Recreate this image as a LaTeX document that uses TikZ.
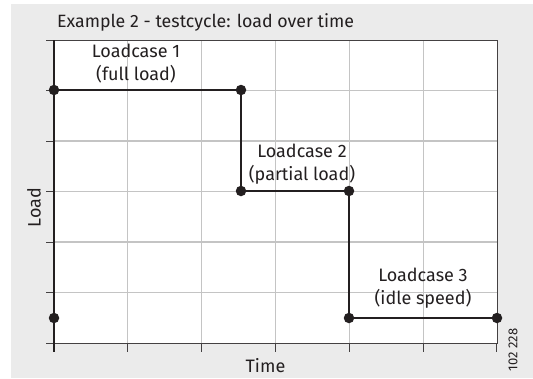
\documentclass[tikz,border=0pt]{standalone}
\usepackage{fontspec}
\setmainfont{Fira Sans}
\definecolor{bg}{HTML}{EBEBEB}
\definecolor{gridc}{HTML}{C4C4C4}
\definecolor{ink}{HTML}{231F20}
\begin{document}
\begin{tikzpicture}[x=1pt,y=-1pt,
  gridline/.style={gridc,line width=1.2pt},
  axisline/.style={ink!85,line width=1pt},
  dataline/.style={ink,line width=1.8pt},
  dot/.style={circle,fill=ink,inner sep=0pt,minimum size=10.5pt},
  lbl/.style={text=ink,font=\fontsize{18}{23}\selectfont,align=center,inner sep=0pt},
  ttl/.style={text=ink,font=\fontsize{17.8}{22}\selectfont,inner sep=0pt}]
\useasboundingbox (0,0) rectangle (533,378);
\fill[bg] (11,4) rectangle (533,378);
\fill[white] (54,40) rectangle (497,343);
% grid
\foreach \i in {1,...,5} {
  \draw[gridline] ({54+\i*73.83},40) -- ({54+\i*73.83},343);
  \draw[gridline] (54,{40+\i*50.5}) -- (497,{40+\i*50.5});
}
% ticks and frame
\foreach \j in {0,...,6} {
  \draw[axisline] (46,{40+\j*50.5}) -- (54,{40+\j*50.5});
  \draw[axisline] ({54+\j*73.83},343) -- ({54+\j*73.83},352);
}
\draw[axisline] (54,40) -- (497,40) -- (497,343) -- (54,343);
\draw[ink,line width=1.5pt] (54,40) -- (54,352);
% data
\node[dot] (p1) at (54,90) {};
\node[dot] (p2) at (241,90) {};
\node[dot] (p3) at (241,191) {};
\node[dot] (p4) at (349,191) {};
\node[dot] (p5) at (349,318) {};
\node[dot] (p6) at (497,318) {};
\node[dot] (p0) at (54,318) {};
\draw[dataline] (p1.center) -- (p2.center) -- (p3.center) -- (p4.center) -- (p5.center) -- (p6.center);
% labels
\node[lbl] (l1) at (136,64) {Loadcase 1\\(full load)};
\node[lbl] (l2) at (302,164) {Loadcase 2\\(partial load)};
\node[lbl] (l3) at (423,288.5) {Loadcase 3\\(idle speed)};
\node[ttl,anchor=west] (title) at (57,22) {Example 2 - testcycle: load over time};
\node[lbl] (time) at (265.5,366) {Time};
\node[lbl,rotate=90] (load) at (34,207.5) {Load};
\node[text=ink,font=\fontsize{13}{15}\selectfont,rotate=90,inner sep=0pt] (code) at (513,350) {102 228};
\end{tikzpicture}
\end{document}
